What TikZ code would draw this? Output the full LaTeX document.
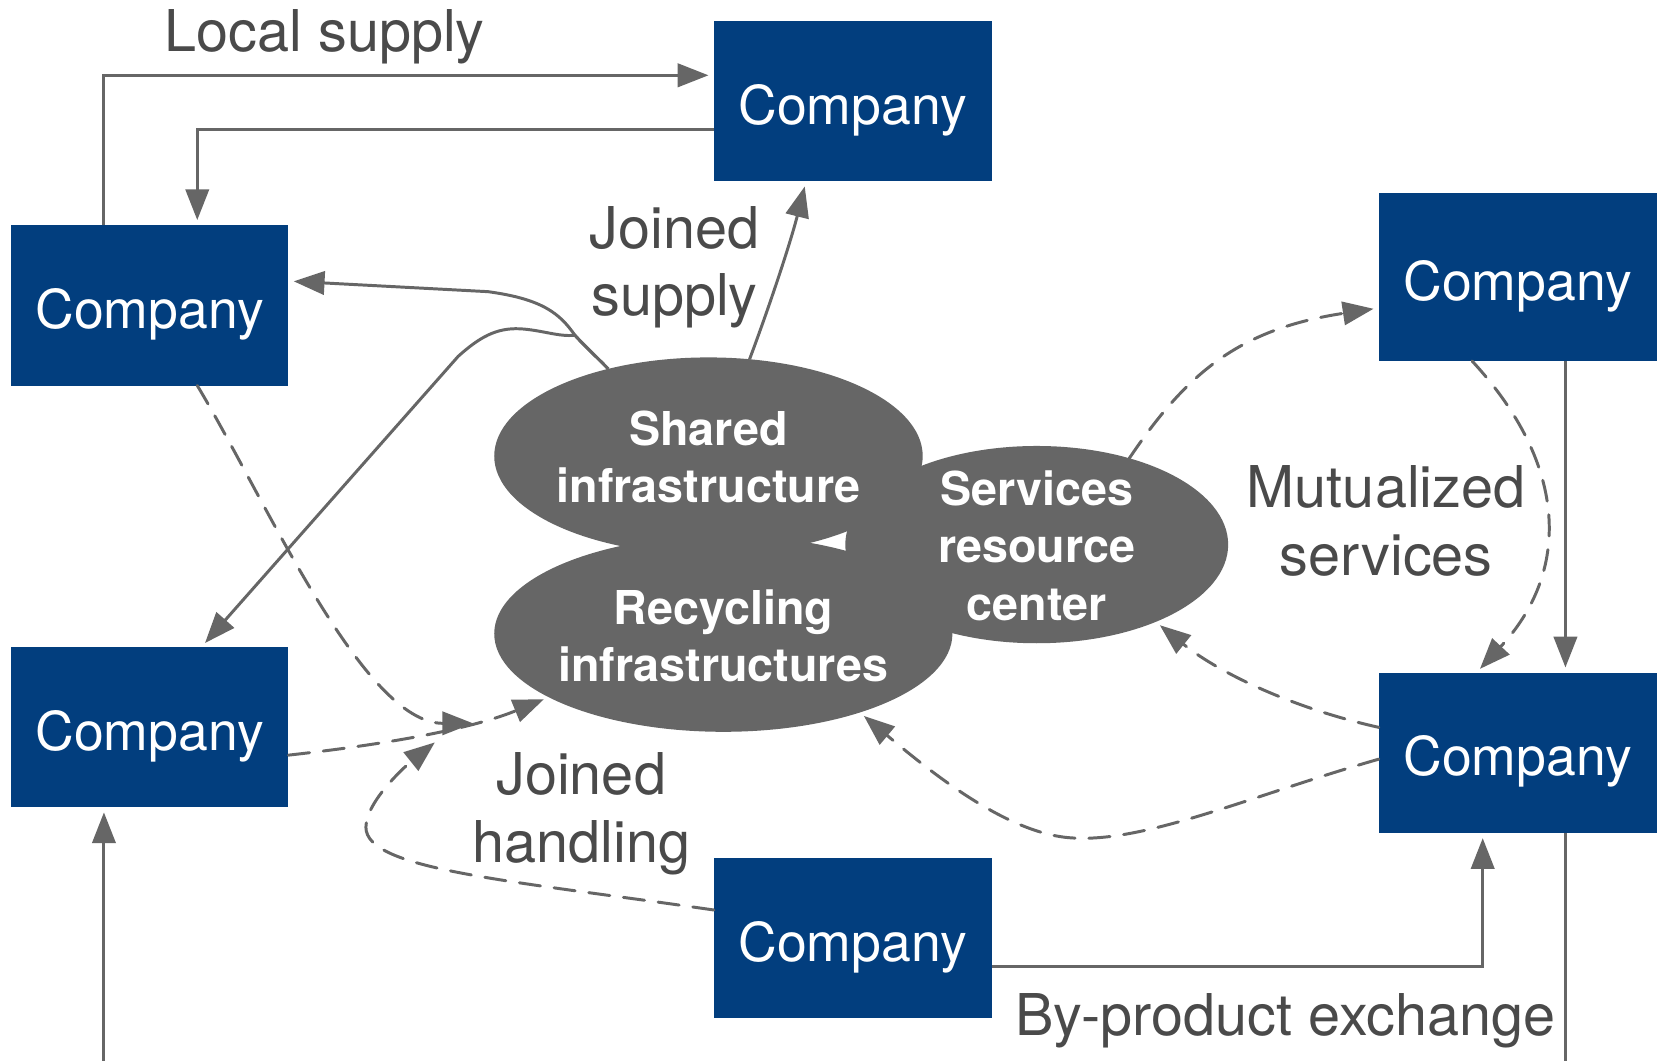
\documentclass[tikz,border=0pt]{standalone}
\usepackage{fontspec}
\setmainfont{TeX Gyre Heros}
\usetikzlibrary{arrows.meta,shapes.geometric,calc}
\definecolor{boxblue}{RGB}{2,62,126}
\definecolor{linegray}{RGB}{102,102,102}
\definecolor{labelgray}{RGB}{74,74,74}
\begin{document}
\begin{tikzpicture}[x=1pt,y=-1pt,
  company/.style={rectangle, fill=boxblue, text=white, minimum width=262pt, minimum height=151pt,
    inner sep=0pt, outer sep=0pt, text height=43.5pt, text depth=0pt, font=\fontsize{50.5}{60}\selectfont},
  blob/.style={ellipse, fill=linegray, inner sep=0pt, outer sep=0pt},
  blobtext/.style={text=white, align=center, inner sep=0pt, font=\fontsize{44}{54}\selectfont\bfseries},
  lbl/.style={text=labelgray, align=center, inner sep=0pt, font=\fontsize{54.3}{64}\selectfont},
  conn/.style={draw=linegray, line width=2.8pt, -{Triangle[length=29pt,width=22pt]}},
  toN/.style={shorten >=5pt},
  dconn/.style={conn, line cap=round, dash pattern=on 20pt off 13pt},
  plainline/.style={draw=linegray, line width=2.8pt}
]
\fill[white] (0,0) rectangle (1568,1000);
\useasboundingbox (0,0) rectangle (1568,1000);

% companies
\node[company] (T)  at (804,95.5)  {Company};
\node[company] (L1) at (141,288)   {Company};
\node[company, minimum height=158pt] (R1) at (1431,261.4) {Company};
\node[company] (L2) at (141,685.5) {Company};
\node[company] (R2) at (1431,709.8) {Company};
\node[company] (B)  at (804,884.5) {Company};

% infrastructures
\node[blob, minimum width=404pt, minimum height=186pt] (SI)  at (668,430)     {};
\node[blob, minimum width=432pt, minimum height=185pt] (RI)  at (682,597.5)   {};
\node[blob, minimum width=361pt, minimum height=186pt] (SRC) at (977.5,513.5) {};
\node[blobtext] (SIt)  at (668,430.5) {Shared\\infrastructure};
\node[blobtext] (RIt)  at (682,599.5) {Recycling\\infrastructures};
\node[blobtext] (SRCt) at (977.5,514.5) {Services\\resource\\center};

% labels
\node[lbl] (lLocal) at (306,35)   {Local supply};
\node[lbl] (lJS)    at (636,252)  {Joined\\supply};
\node[lbl] (lMS)    at (1307,491) {Mutualized\\services};
\node[lbl] (lJH)    at (548,767)  {Joined\\handling};
\node[lbl] (lBP)    at (1212,962) {By-product exchange};

% free ends
\coordinate (h1) at (446,682);
\coordinate (h2) at (410,700);
\coordinate (offR) at (1476,1010);
\coordinate (offL) at (98,1010);

% local supply
\draw[conn,toN] ($(L1.north)+(-43,0)$) |- ($(T.west)+(0,-24.5)$);
\draw[conn,toN] ($(T.west)+(0,26.5)$) -| ($(L1.north)+(45,0)$);

% joined supply
\draw[conn,toN] (SI.67.6) .. controls (725,290) and (745,230) .. ($(T.south)+(-44,0)$);
\draw[conn,toN] (SI.139.5) .. controls (562,336) and (550,325) .. (542,316)
   .. controls (528,296) and (512,282) .. (460,275) -- ($(L1.east)+(0,-23)$);
\draw[conn,toN] (SI.139.5) .. controls (562,336) and (550,325) .. (542,316)
   .. controls (528,318) and (510,311) .. (490,310)
   .. controls (468,309) and (452,318) .. (432,336) -- ($(L2.north)+(49,0)$);

% joined handling
\draw[dconn] ($(L1.south)+(45,0)$) .. controls (250,470) and (342,682) .. (h1);
\draw[dconn,toN] ($(L2.east)+(0,26.5)$) .. controls (380,700) and (450,685) .. (RI.200);
\draw[dconn] ($(B.west)+(0,-26.5)$) .. controls (480,830) and (345,820) .. (345,780)
   .. controls (345,755) and (385,720) .. (h2);

% mutualized services
\draw[dconn,toN] (SRC.43) .. controls (1120,350) and (1170,310) .. ($(R1.west)+(0,29)$);
\draw[dconn,toN] ($(R1.south)+(-43,0)$) .. controls (1480,440) and (1480,540) .. ($(R2.north)+(-39,0)$);
\draw[conn,toN] ($(R1.south)+(45,0)$) -- ($(R2.north)+(45,0)$);
\draw[dconn,toN] ($(R2.west)+(0,-24)$) .. controls (1220,668) and (1150,635) .. (SRC.-33);
\draw[dconn,toN] ($(R2.west)+(0,6)$) .. controls (1180,750) and (1080,795) .. (1010,790)
   .. controls (950,786) and (880,730) .. (RI.-30);

% by-product exchange
\draw[conn,toN] ($(B.east)+(0,26.5)$) -| ($(R2.south)+(-33,0)$);
\draw[plainline] ($(R2.south)+(45,0)$) -- (offR);
\draw[conn,toN] (offL) -- ($(L2.south)+(-43,0)$);
\end{tikzpicture}
\end{document}
